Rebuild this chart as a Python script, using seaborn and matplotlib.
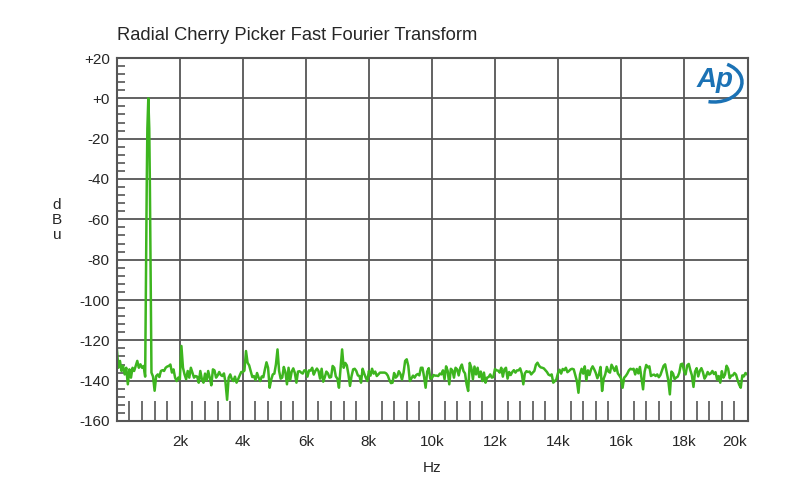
import numpy as np
import matplotlib
matplotlib.use("Agg")
import matplotlib.pyplot as plt
import seaborn as sns
from matplotlib.patches import Arc

# FFT spectrum, 50 Hz bins from 0 to 20 kHz (dBu), one row per 500 Hz
freqs = np.arange(0, 20001, 50)
levels = [
    -124, -133.6, -130.2, -135.2, -132.7, -136.9, -133.6, -141.8, -134.4, -138.5,
    -133.6, -135.2, -132.7, -130.2, -133.6, -131.9, -133.6, -132.7, -138, -43,
    0, -43, -136, -138, -145, -137.7, -136.9, -138.2, -135.2, -134.8,
    -135.2, -133.6, -133, -132.7, -132, -136, -134.4, -138.5, -140.2, -138.5,
    -139.3, -122.8, -133.6, -136.9, -139.3, -135.2, -138.5, -133.6, -136, -138.5,
    -137.7, -138, -141, -135.2, -139.3, -141, -136.5, -140, -135.2, -138.5,
    -142.3, -134.4, -134.9, -138.5, -137.4, -135.7, -137.2, -137.7, -136.4, -141,
    -149.5, -138.5, -136.9, -139.3, -140.2, -138, -141, -139.3, -137.4, -135.7,
    -135.7, -135, -125.3, -131.1, -132.4, -135.2, -138.2, -137.7, -139.7, -136.2,
    -138.5, -140.2, -137.9, -138.3, -134.4, -130.9, -133.6, -143.5, -139.5, -136.9,
    -136.5, -131.9, -124.5, -135.2, -139, -138.5, -133.2, -135.8, -141.8, -133.6,
    -139.8, -135.5, -133.9, -136.2, -141, -135.5, -135.3, -136, -136.5, -134.9,
    -134.9, -138, -134.9, -135, -133.6, -137, -135.2, -134, -135.2, -139,
    -134.1, -140.5, -138.3, -135.5, -136.4, -138.5, -138.2, -132.7, -133.6, -137.9,
    -139, -143.5, -134, -124.5, -133.6, -131.2, -132.4, -136.9, -142.6, -137.7,
    -134.4, -134.1, -135.2, -137.4, -137.7, -141, -134.1, -136.4, -138.5, -140.2,
    -135.2, -137.5, -134.1, -136.5, -135.5, -137.7, -136.9, -136, -136, -136,
    -136, -136.4, -137.5, -139.7, -141.2, -141, -136.2, -138.5, -137.7, -135.3,
    -136.7, -139.5, -136, -130.2, -129.4, -132.7, -140.2, -138.8, -137.5, -138.5,
    -137.2, -136.7, -137.4, -133.6, -133.6, -138, -143.5, -135.5, -133.8, -139.1,
    -138.7, -137.2, -137.5, -137.5, -137.7, -136.5, -136.9, -134.9, -139.3, -132.9,
    -135.2, -141.8, -134.1, -134.9, -138.5, -133.6, -134.4, -137.4, -133.6, -132,
    -135.2, -136.4, -141.8, -145.1, -131.2, -133.6, -139.3, -133, -136.9, -133.6,
    -138.2, -135.5, -140.2, -136, -141, -138.5, -138.2, -136.9, -138.5, -138.2,
    -134.2, -134.9, -135, -136, -133.6, -138, -134.4, -133.6, -139, -135.7,
    -137.2, -135.7, -134.8, -136, -134.9, -134.9, -133.9, -136.4, -141.8, -136.4,
    -135.3, -135.7, -135.5, -136.9, -136, -135.2, -132.1, -131.1, -132.6, -133.4,
    -133.6, -133.9, -134.8, -135.7, -137, -137.4, -136.9, -141, -140.2, -139.3,
    -136.2, -134.6, -136.5, -134.2, -134.8, -133.6, -135.8, -135.2, -134.4, -134.1,
    -134.4, -137.4, -140.2, -146, -136.9, -134.1, -136.5, -132.9, -139.8, -134.9,
    -137.2, -134.4, -132.9, -134.4, -136.2, -138.8, -136.9, -133.2, -145.1, -139,
    -136.9, -133.2, -135.5, -136, -132.1, -133.6, -135.2, -132.9, -136.4, -137.5,
    -138.8, -143.5, -138.5, -137.7, -136.5, -134.9, -134.1, -134.4, -134.1, -136.9,
    -134.2, -136.4, -133.2, -138.7, -144.3, -135.5, -132.2, -133.4, -132.9, -137.7,
    -137.2, -137, -137.7, -136.9, -138.3, -137.2, -134.9, -132.7, -131.9, -135.8,
    -139.8, -146.8, -135.5, -136.4, -139.2, -138.5, -138, -136, -131.9, -131.6,
    -135.2, -136.9, -132.4, -131.7, -134.8, -137.4, -143.1, -135.5, -133.8, -137.9,
    -135.2, -133.8, -135.8, -139, -137.7, -135.7, -136.9, -136.4, -135.2, -136.7,
    -135.8, -139.5, -137.7, -141, -135.3, -138.5, -137, -132.6, -134.1, -138.8,
    -137.5, -137.4, -136.2, -137, -139.7, -142, -143.5, -137.4, -137.9, -136.2,
    -136.9,
]
# extra points on the flanks of the 1 kHz tone
peak_freqs = [970, 1030]
peak_levels = [-15, -15]

x_all = np.concatenate([freqs, peak_freqs])
y_all = np.concatenate([levels, peak_levels])

y_major = list(range(-160, 21, 20))
y_labels = ["+" + str(v) if v >= 0 else str(v) for v in y_major]
y_minor = [v for v in range(-160, 21, 4) if v % 20 != 0]
x_major = [2000, 4000, 6000, 8000, 10000, 12000, 14000, 16000, 18000, 19600]
x_labels = ["2k", "4k", "6k", "8k", "10k", "12k", "14k", "16k", "18k", "20k"]
x_minor = [v for v in range(400, 20000, 400) if v % 2000 != 0]

grey = "#555555"
green = "#3db51f"

sns.set_style("white")
plt.rcParams['font.family'] = ['Liberation Sans', 'DejaVu Sans']

fig = plt.figure(figsize=(8, 5), dpi=100)
ax = fig.add_axes([0.146, 0.158, 0.789, 0.726])

sns.lineplot(x=x_all, y=y_all, ax=ax, color=green, linewidth=1.8,
             estimator=None, sort=True)

ax.set_xlim(0, 20030)
ax.set_ylim(-160, 20)

ax.set_yticks(y_major)
ax.set_yticklabels(y_labels)
ax.set_yticks(y_minor, minor=True)
ax.set_xticks(x_major)
ax.set_xticklabels(x_labels)
ax.set_xticks(x_minor, minor=True)
ax.xaxis.remove_overlapping_locs = False

ax.grid(True, which="major", color=grey, linewidth=1.3)
ax.get_xgridlines()[-1].set_visible(False)
for s in ax.spines.values():
    s.set_color(grey)
    s.set_linewidth(1.5)

ax.tick_params(axis="x", which="major", length=0, pad=10, labelsize=11)
ax.tick_params(axis="x", which="minor", bottom=True, direction="in",
               length=14.5, width=1.2, color=grey)
ax.tick_params(axis="y", which="major", length=0, pad=5, labelsize=11)
ax.tick_params(axis="y", which="minor", left=True, direction="in",
               length=6, width=1.2, color=grey)

ax.set_xlabel("Hz", fontsize=11, labelpad=9)
ax.set_ylabel("")

fig.text(0.146, 1 - 35 / 500, "Radial Cherry Picker Fast Fourier Transform",
         fontsize=13.2, ha="left", va="center")
fig.text(57 / 800, 1 - 220 / 500, "d\nB\nu", fontsize=11,
         ha="center", va="center", linespacing=1.05)

# Ap logo
logo_blue = "#1b72b5"
fig.text(715 / 800, 1 - 80 / 500, "Ap", color=logo_blue, fontsize=20,
         fontstyle="italic", fontweight="bold", ha="center", va="center")
fig.patches.append(Arc((714 / 800, 1 - 82 / 500), 56 / 800, 40 / 500,
                       theta1=-100, theta2=65, color=logo_blue, linewidth=2.5,
                       transform=fig.transFigure))

fig.savefig("out.png", dpi=100)
